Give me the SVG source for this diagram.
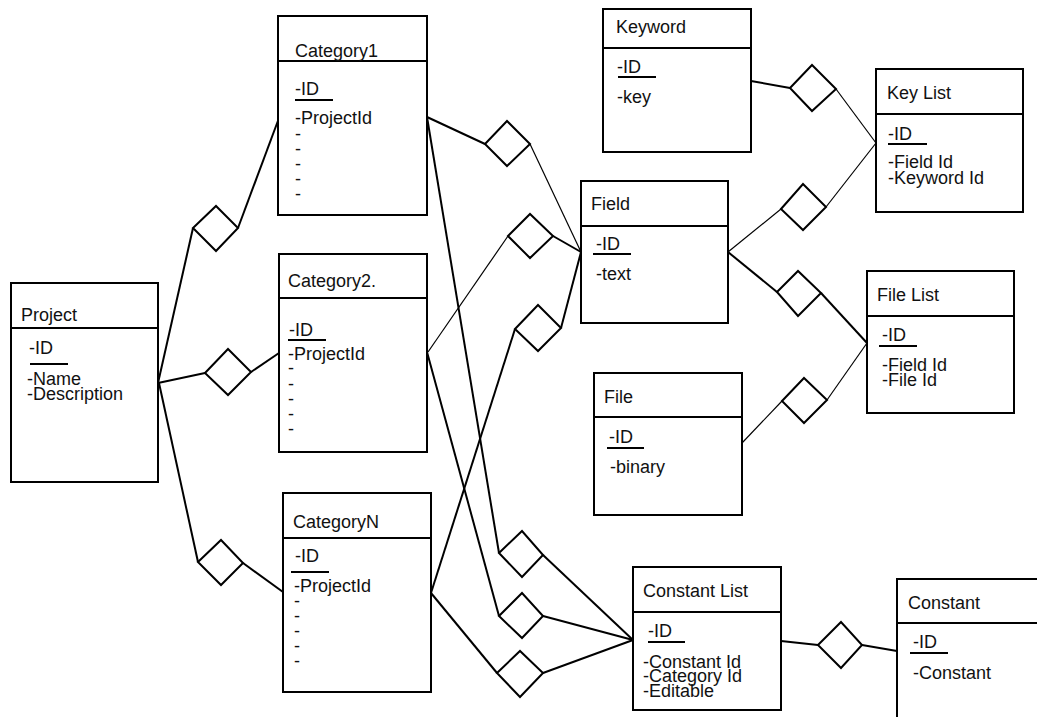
<svg xmlns="http://www.w3.org/2000/svg" width="1037" height="717" viewBox="0 0 1037 717">
<style>
.box{fill:#fff;stroke:#000;stroke-width:2}
.hd{stroke:#000;stroke-width:2}
.ul{stroke:#000;stroke-width:2}
.t{font-family:"Liberation Sans",Arial,sans-serif;font-size:18px;fill:#111}
.c{fill:none;stroke:#000;stroke-width:2;stroke-linejoin:miter}
.thin{fill:none;stroke:#000;stroke-width:1.2}
.dm{fill:#fff;stroke:#000;stroke-width:2}
</style>
<rect width="1037" height="717" fill="#fff"/>
<g id="connectors">
  <!-- Project to categories -->
  <polyline class="c" points="158,383 193,228"/>
  <polyline class="c" points="238,228 279,118"/>
  <polygon class="dm" points="193,228 216,206 238,228 216,251"/>
  <polyline class="c" points="158,383 205,373"/>
  <polyline class="c" points="251,372 279,353"/>
  <polygon class="dm" points="205,373 228,349 251,372 228,395"/>
  <polyline class="c" points="159,383 198,562"/>
  <polyline class="c" points="243,563 283,592"/>
  <polygon class="dm" points="198,562 221,540 243,563 221,585"/>
  <!-- Categories to Field -->
  <polyline class="c" points="427,117 485,144"/>
  <polyline class="thin" points="530,144 581,252"/>
  <polygon class="dm" points="485,144 507,121 530,144 507,166"/>
  <polyline class="thin" points="428,352 508,236"/>
  <polyline class="c" points="553,236 581,252"/>
  <polygon class="dm" points="508,236 530,214 553,236 530,258"/>
  <polyline class="c" points="431,593 515,329"/>
  <polyline class="c" points="561,328 581,252"/>
  <polygon class="dm" points="515,329 538,305 561,328 538,351"/>
  <!-- Categories to Constant List -->
  <polyline class="c" points="427,117 499,553"/>
  <polyline class="c" points="543,555 633,640"/>
  <polygon class="dm" points="499,553 522,531 543,555 522,577"/>
  <polyline class="c" points="427,352 499,616"/>
  <polyline class="c" points="543,616 633,640"/>
  <polygon class="dm" points="499,616 522,593 543,616 522,638"/>
  <polyline class="c" points="431,593 497,673"/>
  <polyline class="c" points="543,673 633,640"/>
  <polygon class="dm" points="497,673 520,651 543,673 520,697"/>
  <!-- Constant List to Constant -->
  <polyline class="c" points="781,641 818,645"/>
  <polyline class="c" points="862,645 897,651"/>
  <polygon class="dm" points="818,645 841,622 862,645 841,668"/>
  <!-- Keyword to Key List -->
  <polyline class="c" points="751,81 790,88"/>
  <polyline class="thin" points="836,89 876,143"/>
  <polygon class="dm" points="790,88 812,65 836,89 812,111"/>
  <!-- Field to Key List -->
  <polyline class="thin" points="728,252 781,209"/>
  <polyline class="thin" points="826,207 876,143"/>
  <polygon class="dm" points="781,209 803,184 826,207 803,230"/>
  <!-- Field to File List -->
  <polyline class="c" points="728,252 777,292"/>
  <polyline class="c" points="821,293 867,343"/>
  <polygon class="dm" points="777,292 798,271 821,293 798,316"/>
  <!-- File to File List -->
  <polyline class="thin" points="742,443 782,401"/>
  <polyline class="thin" points="827,400 867,343"/>
  <polygon class="dm" points="782,401 804,378 827,400 804,423"/>
</g>
<g id="project">
  <rect class="box" x="11" y="283" width="147" height="199"/>
  <line class="hd" x1="11" y1="328" x2="158" y2="328"/>
  <text class="t" x="21" y="321">Project</text>
  <text class="t" x="29" y="354">-ID</text>
  <line class="ul" x1="30" y1="364" x2="68" y2="364"/>
  <text class="t" x="27" y="385">-Name</text>
  <text class="t" x="27" y="400">-Description</text>
</g>
<g id="category1">
  <rect class="box" x="278" y="16" width="149" height="199"/>
  <line class="hd" x1="278" y1="61" x2="427" y2="61"/>
  <text class="t" x="295" y="57">Category1</text>
  <text class="t" x="295" y="95">-ID</text>
  <line class="ul" x1="295" y1="100" x2="333" y2="100"/>
  <text class="t" x="295" y="124">-ProjectId</text>
  <text class="t" x="295" y="140">-</text>
  <text class="t" x="295" y="155">-</text>
  <text class="t" x="295" y="170">-</text>
  <text class="t" x="295" y="185">-</text>
  <text class="t" x="295" y="200">-</text>
</g>
<g id="category2">
  <rect class="box" x="279" y="254" width="148" height="198"/>
  <line class="hd" x1="279" y1="298" x2="427" y2="298"/>
  <text class="t" x="288" y="287">Category2.</text>
  <text class="t" x="289" y="336">-ID</text>
  <line class="ul" x1="288" y1="340" x2="326" y2="340"/>
  <text class="t" x="288" y="360">-ProjectId</text>
  <text class="t" x="288" y="374">-</text>
  <text class="t" x="288" y="390">-</text>
  <text class="t" x="288" y="405">-</text>
  <text class="t" x="288" y="420">-</text>
  <text class="t" x="288" y="435">-</text>
</g>
<g id="categoryN">
  <rect class="box" x="283" y="493" width="148" height="199"/>
  <line class="hd" x1="283" y1="538" x2="431" y2="538"/>
  <text class="t" x="293" y="528">CategoryN</text>
  <text class="t" x="295" y="562">-ID</text>
  <line class="ul" x1="291" y1="572" x2="329" y2="572"/>
  <text class="t" x="294" y="592">-ProjectId</text>
  <text class="t" x="294" y="607">-</text>
  <text class="t" x="294" y="622">-</text>
  <text class="t" x="294" y="637">-</text>
  <text class="t" x="294" y="652">-</text>
  <text class="t" x="294" y="667">-</text>
</g>
<g id="keyword">
  <rect class="box" x="603" y="9" width="148" height="143"/>
  <line class="hd" x1="603" y1="48" x2="751" y2="48"/>
  <text class="t" x="616" y="33">Keyword</text>
  <text class="t" x="617" y="73">-ID</text>
  <line class="ul" x1="618" y1="77" x2="656" y2="77"/>
  <text class="t" x="617" y="103">-key</text>
</g>
<g id="field">
  <rect class="box" x="581" y="181" width="147" height="142"/>
  <line class="hd" x1="581" y1="226" x2="728" y2="226"/>
  <text class="t" x="591" y="210">Field</text>
  <text class="t" x="596" y="250">-ID</text>
  <line class="ul" x1="593" y1="254" x2="631" y2="254"/>
  <text class="t" x="596" y="280">-text</text>
</g>
<g id="keylist">
  <rect class="box" x="876" y="69" width="147" height="143"/>
  <line class="hd" x1="876" y1="114" x2="1023" y2="114"/>
  <text class="t" x="887" y="99">Key List</text>
  <text class="t" x="888" y="140">-ID</text>
  <line class="ul" x1="888" y1="144" x2="927" y2="144"/>
  <text class="t" x="888" y="168">-Field Id</text>
  <text class="t" x="888" y="184">-Keyword Id</text>
</g>
<g id="filelist">
  <rect class="box" x="867" y="271" width="147" height="142"/>
  <line class="hd" x1="867" y1="316" x2="1014" y2="316"/>
  <text class="t" x="877" y="301">File List</text>
  <text class="t" x="882" y="341">-ID</text>
  <line class="ul" x1="879" y1="346" x2="917" y2="346"/>
  <text class="t" x="882" y="371">-Field Id</text>
  <text class="t" x="882" y="386">-File Id</text>
</g>
<g id="file">
  <rect class="box" x="594" y="373" width="148" height="142"/>
  <line class="hd" x1="594" y1="417" x2="742" y2="417"/>
  <text class="t" x="604" y="403">File</text>
  <text class="t" x="609" y="443">-ID</text>
  <line class="ul" x1="607" y1="448" x2="644" y2="448"/>
  <text class="t" x="610" y="473">-binary</text>
</g>
<g id="constantlist">
  <rect class="box" x="633" y="567" width="148" height="143"/>
  <line class="hd" x1="633" y1="612" x2="781" y2="612"/>
  <text class="t" x="643" y="597">Constant List</text>
  <text class="t" x="648" y="637">-ID</text>
  <line class="ul" x1="648" y1="642" x2="685" y2="642"/>
  <text class="t" x="643" y="668">-Constant Id</text>
  <text class="t" x="643" y="682">-Category Id</text>
  <text class="t" x="643" y="697">-Editable</text>
</g>
<g id="constant">
  <rect class="box" x="897" y="579" width="200" height="200"/>
  <line class="hd" x1="897" y1="623" x2="1037" y2="623"/>
  <text class="t" x="908" y="609">Constant</text>
  <text class="t" x="913" y="648">-ID</text>
  <line class="ul" x1="910" y1="653" x2="948" y2="653"/>
  <text class="t" x="913" y="679">-Constant</text>
</g>
</svg>
